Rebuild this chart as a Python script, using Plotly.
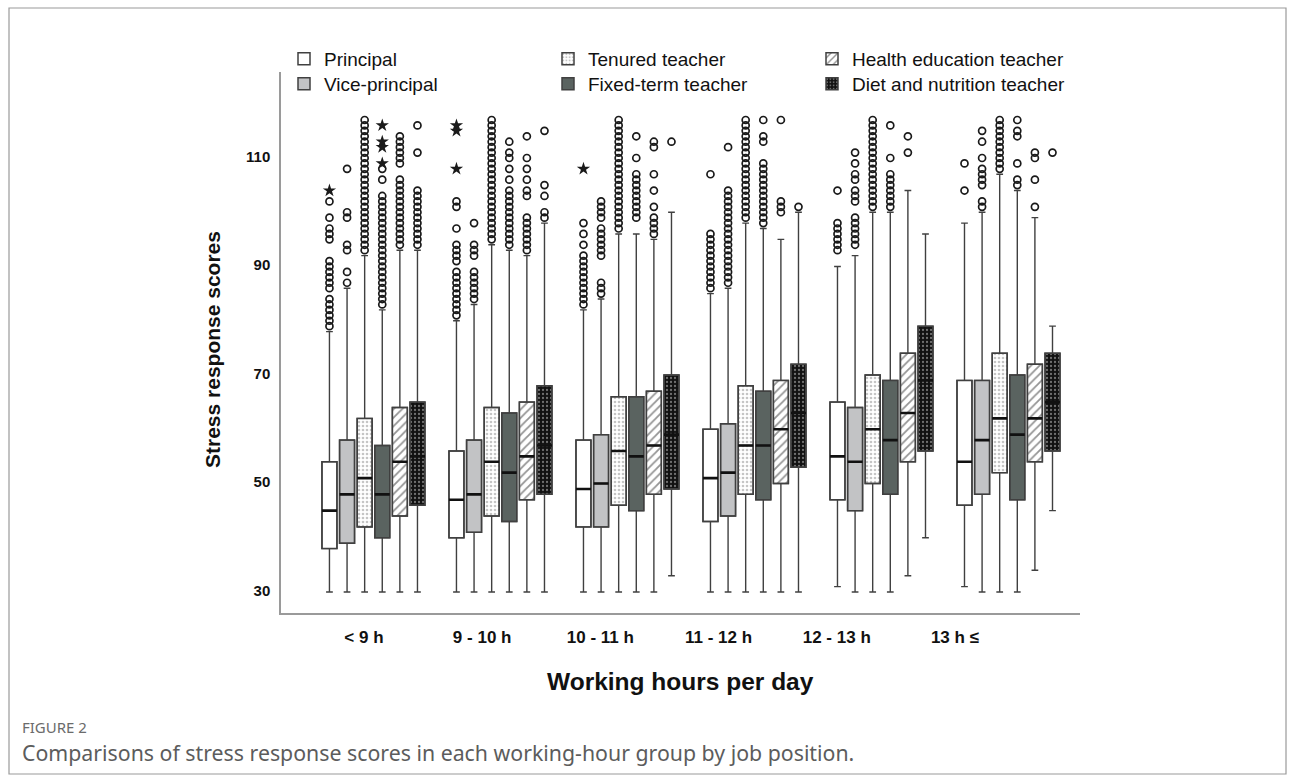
import plotly.graph_objects as go

# ---------------------------------------------------------------- data
hour_groups = ["< 9 h", "9 - 10 h", "10 - 11 h", "11 - 12 h", "12 - 13 h", "13 h \u2264"]
job_positions = ["Principal", "Vice-principal", "Tenured teacher",
                 "Fixed-term teacher", "Health education teacher",
                 "Diet and nutrition teacher"]

# rows follow job_positions, columns follow hour_groups
q1_scores = [
    [37, 39, 41, 42, 46, 45],
    [38, 40, 41, 43, 44, 47],
    [41, 43, 45, 47, 49, 51],
    [39, 42, 44, 46, 47, 46],
    [43, 46, 47, 49, 53, 53],
    [45, 47, 48, 52, 55, 55],
]
median_scores = [
    [44, 46, 48, 50, 54, 53],
    [47, 47, 49, 51, 53, 57],
    [50, 53, 55, 56, 59, 61],
    [47, 51, 54, 56, 57, 58],
    [53, 54, 56, 59, 62, 61],
    [54, 56, 58, 62, 68, 64],
]
q3_scores = [
    [53, 55, 57, 59, 64, 68],
    [57, 57, 58, 60, 63, 68],
    [61, 63, 65, 67, 69, 73],
    [56, 62, 65, 66, 68, 69],
    [63, 64, 66, 68, 73, 71],
    [64, 67, 69, 71, 78, 73],
]
whisker_low = [
    [29, 29, 29, 29, 30, 30],
    [29, 29, 29, 29, 29, 29],
    [29, 29, 29, 29, 29, 29],
    [29, 29, 29, 29, 29, 29],
    [29, 29, 29, 29, 32, 33],
    [29, 29, 32, 29, 39, 44],
]
whisker_high = [
    [77, 79, 81, 84, 89, 97],
    [85, 82, 83, 85, 91, 99],
    [91, 93, 95, 97, 99, 106],
    [81, 92, 95, 96, 99, 103],
    [92, 91, 94, 94, 103, 98],
    [92, 97, 99, 99, 95, 78],
]

# outliers (circles) and extreme values (stars), per position and hour group
outliers_principal = [
    [78, 79, 80, 81, 82, 83, 85, 86, 87, 88, 89, 90, 94, 95, 96, 98, 101],
    [80, 81, 82, 83, 84, 85, 86, 87, 88, 90, 91, 92, 93, 96, 100, 101],
    [82, 83, 84, 85, 86, 87, 88, 89, 90, 91, 93, 95, 97],
    [85, 86, 87, 88, 89, 90, 91, 92, 93, 94, 95, 106],
    [92, 93, 94, 95, 96, 97, 103],
    [103, 108],
]
outliers_vice = [
    [86, 88, 92, 93, 98, 99, 107],
    [83, 84, 85, 86, 87, 88, 91, 92, 93, 97],
    [84, 85, 86, 91, 92, 93, 94, 95, 96, 98, 99, 100, 101],
    [86, 87, 88, 89, 90, 91, 92, 93, 94, 95, 96, 97, 98, 99, 100, 101, 102, 103, 111],
    [93, 94, 95, 96, 97, 98, 101, 102, 103, 105, 106, 108, 110],
    [100, 101, 104, 105, 106, 107, 109, 112, 114],
]
outliers_tenured = [
    [92, 93, 94, 95, 96, 97, 98, 99, 100, 101, 102, 103, 104, 105, 106, 107, 108,
     109, 110, 111, 112, 113, 114, 115, 116],
    [94, 95, 96, 97, 98, 99, 100, 101, 102, 103, 104, 105, 106, 107, 108, 109,
     110, 111, 112, 113, 114, 115, 116],
    [96, 97, 98, 99, 100, 101, 102, 103, 104, 105, 106, 107, 108, 109, 110, 111,
     112, 113, 114, 115, 116],
    [98, 99, 100, 101, 102, 103, 104, 105, 106, 107, 108, 109, 110, 111, 112, 113,
     114, 115, 116],
    [100, 101, 102, 103, 104, 105, 106, 107, 108, 109, 110, 111, 112, 113, 114,
     115, 116],
    [107, 108, 109, 110, 111, 112, 113, 114, 115, 116],
]
outliers_fixed = [
    [82, 83, 84, 85, 86, 87, 88, 89, 90, 91, 92, 93, 94, 95, 96, 97, 98, 99, 100,
     101, 102, 105, 107],
    [93, 94, 95, 96, 97, 98, 99, 100, 101, 102, 103, 105, 107, 109, 110, 112],
    [98, 99, 100, 101, 102, 103, 104, 105, 106, 109, 113],
    [97, 98, 99, 100, 101, 102, 103, 104, 105, 106, 107, 108, 112, 113, 116],
    [100, 101, 102, 103, 104, 105, 106, 109, 115],
    [104, 105, 108, 113, 114, 116],
]
outliers_health = [
    [93, 94, 95, 96, 97, 98, 99, 100, 101, 102, 103, 104, 105, 108, 109, 110, 111,
     112, 113],
    [92, 93, 94, 95, 96, 97, 98, 102, 103, 105, 107, 109, 113],
    [95, 96, 97, 98, 100, 103, 106, 111, 112],
    [99, 100, 101, 116],
    [110, 113],
    [100, 105, 109, 110],
]
outliers_diet = [
    [93, 94, 95, 96, 97, 98, 99, 100, 101, 102, 103, 110, 115],
    [98, 99, 102, 104, 114],
    [112],
    [100],
    [],
    [110],
]
extremes_principal = [[103], [107, 114, 115], [107], [], [], []]
extremes_fixed = [[108, 111, 112, 115], [], [], [], [], []]

outliers = [outliers_principal, outliers_vice, outliers_tenured,
            outliers_fixed, outliers_health, outliers_diet]
extremes = {0: extremes_principal, 3: extremes_fixed}

# ---------------------------------------------------------------- geometry
W, H = 1295, 782
ML, MR, MT, MB = 281, 215, 72, 169
PW, PH = W - ML - MR, H - MT - MB

SLOT = 0.1386      # distance between neighbouring boxes (group pitch = 1)
BOX_W = 0.118      # box width in x units
X_RANGE = [-0.728, 5.563]
Y_RANGE = [25.13, 124.85]
LABEL_RANGE = [-0.702, 6.058]   # scale used for the hour-group labels

n_pos = len(job_positions)


def box_x(pos_idx):
    return [g + (pos_idx - (n_pos - 1) / 2) * SLOT for g in range(len(hour_groups))]


def px_x(px):
    return (px - ML) / PW


def px_y(py):
    return (H - MB - py) / PH


FONT = "Liberation Sans, Arial, sans-serif"
CAPTION_FONT = "Noto Sans, Open Sans, sans-serif"
EDGE = "#404040"

fills = [
    dict(color="white"),
    dict(color="#c2c3c5"),
    dict(color="white", pattern=dict(shape=".", fgcolor="#8c8c8c", bgcolor="white",
                                     size=4, solidity=0.35)),
    dict(color="#5a6360"),
    dict(color="white", pattern=dict(shape="/", fgcolor="#2a2a2a", bgcolor="white",
                                     size=6, solidity=0.3)),
    dict(color="#111111", pattern=dict(shape=".", fgcolor="#cfcfcf", bgcolor="#111111",
                                       size=4, solidity=0.25)),
]
# legend row for each position: first row and second row of the key
legend_row = ["legend", "legend2", "legend", "legend2", "legend", "legend2"]

fig = go.Figure()

for i, name in enumerate(job_positions):
    xs = box_x(i)
    height = [q3 - q1 for q1, q3 in zip(q1_scores[i], q3_scores[i])]
    marker = dict(color=fills[i]["color"], line=dict(color=EDGE, width=1.5))
    if "pattern" in fills[i]:
        marker["pattern"] = fills[i]["pattern"]
    # interquartile fill (carries the pattern and the legend swatch)
    fig.add_trace(go.Bar(
        x=xs, y=height, base=q1_scores[i], width=BOX_W, name=name, marker=marker,
        legend=legend_row[i], hoverinfo="skip",
    ))
    # box outline and whiskers
    fig.add_trace(go.Box(
        x=xs, q1=q1_scores[i], median=median_scores[i], q3=q3_scores[i],
        lowerfence=whisker_low[i], upperfence=whisker_high[i],
        width=BOX_W, whiskerwidth=0.45, boxpoints=False,
        fillcolor="rgba(0,0,0,0)", line=dict(color=EDGE, width=1.4),
        showlegend=False, hoverinfo="skip",
    ))
    # heavier median bar
    fig.add_trace(go.Box(
        x=xs, q1=median_scores[i], median=median_scores[i], q3=median_scores[i],
        lowerfence=median_scores[i], upperfence=median_scores[i],
        width=BOX_W, whiskerwidth=0, boxpoints=False,
        fillcolor="rgba(0,0,0,0)", line=dict(color="#111111", width=2.6),
        showlegend=False, hoverinfo="skip",
    ))

for i in range(n_pos):
    xs = box_x(i)
    ox, oy = [], []
    for g, vals in enumerate(outliers[i]):
        ox += [xs[g]] * len(vals)
        oy += vals
    fig.add_trace(go.Scatter(
        x=ox, y=oy, mode="markers", showlegend=False, hoverinfo="skip",
        marker=dict(symbol="circle-open", size=7, color="#1a1a1a",
                    line=dict(width=1.7, color="#1a1a1a")),
    ))
    if i in extremes:
        ex, ey = [], []
        for g, vals in enumerate(extremes[i]):
            ex += [xs[g]] * len(vals)
            ey += vals
        fig.add_trace(go.Scatter(
            x=ex, y=ey, mode="markers", showlegend=False, hoverinfo="skip",
            marker=dict(symbol="star", size=10, color="#1a1a1a", line=dict(width=0)),
        ))

# carrier for the hour-group label axis
fig.add_trace(go.Scatter(
    x=list(range(len(hour_groups))), y=[Y_RANGE[0]] * len(hour_groups),
    xaxis="x2", mode="markers", marker=dict(opacity=0), showlegend=False,
    hoverinfo="skip",
))

legend_style = dict(
    orientation="h", xref="container", yref="container",
    x=284 / W, xanchor="left", yanchor="middle",
    entrywidth=219, entrywidthmode="pixels",
    font=dict(family=FONT, size=19, color="#111"),
    bgcolor="rgba(0,0,0,0)", traceorder="normal",
)

fig.update_layout(
    width=W, height=H,
    margin=dict(l=ML, r=MR, t=MT, b=MB, pad=0, autoexpand=False),
    paper_bgcolor="white", plot_bgcolor="white",
    barmode="overlay", boxmode="overlay",
    showlegend=True,
    legend=dict(legend_style, y=1 - 59 / H),
    legend2=dict(legend_style, y=1 - 84 / H),
    xaxis=dict(
        range=X_RANGE, showline=True, linecolor="#9a9a9a", linewidth=1.5,
        showgrid=False, zeroline=False, showticklabels=False, ticks="",
    ),
    xaxis2=dict(
        range=LABEL_RANGE, overlaying="x", anchor="y", side="bottom",
        tickmode="array", tickvals=list(range(len(hour_groups))),
        ticktext=hour_groups, showline=False, showgrid=False, zeroline=False,
        ticks="", ticklabelstandoff=12,
        tickfont=dict(family=FONT, size=17, color="#111", weight="bold"),
    ),
    yaxis=dict(
        range=Y_RANGE, showline=True, linecolor="#9a9a9a", linewidth=1.5,
        showgrid=False, zeroline=False, ticks="",
        tickmode="array", tickvals=[30, 50, 70, 90, 110],
        ticklabelstandoff=6, ticklabelshift=4,
        tickfont=dict(family=FONT, size=15, color="#111", weight="bold"),
    ),
)

annotations = [
    dict(text="<b>Stress response scores</b>", textangle=-90,
         x=px_x(212), y=px_y(350), xanchor="center", yanchor="middle",
         font=dict(family=FONT, size=21, color="#111")),
    dict(text="<b>Working hours per day</b>",
         x=px_x(680), y=px_y(681), xanchor="center", yanchor="middle",
         font=dict(family=FONT, size=24.5, color="#111")),
    dict(text="FIGURE 2", x=px_x(20), y=px_y(727), xanchor="left", yanchor="middle",
         font=dict(family=CAPTION_FONT, size=15, color="#6b6b6b")),
    dict(text="Comparisons of stress response scores in each working-hour group by job position.",
         x=px_x(20), y=px_y(752), xanchor="left", yanchor="middle",
         font=dict(family=CAPTION_FONT, size=21.3, color="#5c5c5c")),
]
for a in annotations:
    a.update(xref="paper", yref="paper", showarrow=False)
fig.update_layout(annotations=annotations)

# frame around the figure panel
fig.add_shape(type="rect", xref="paper", yref="paper",
              x0=px_x(9), x1=px_x(1286), y0=px_y(8), y1=px_y(774),
              line=dict(color="#9a9a9a", width=1.2), layer="below")

fig.write_html("out.html")
